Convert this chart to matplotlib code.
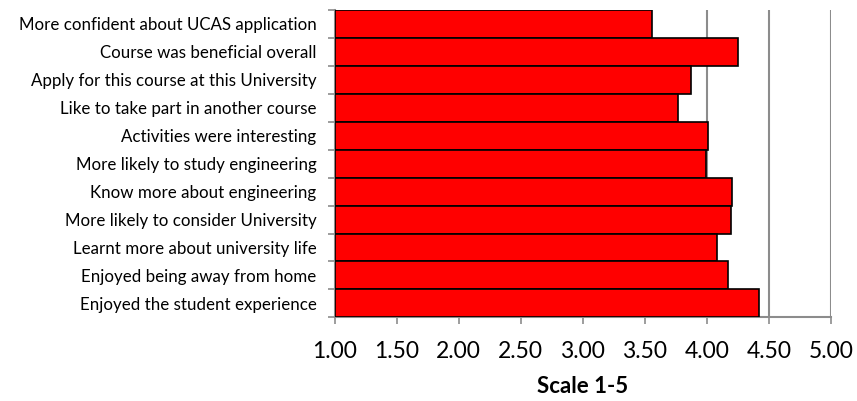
import numpy as np
import matplotlib.pyplot as plt
from matplotlib.ticker import MultipleLocator, FixedLocator

# survey statements, top to bottom
statements = [
    "More confident about UCAS application",
    "Course was beneficial overall",
    "Apply for this course at this University",
    "Like to take part in another course",
    "Activities were interesting",
    "More likely to study engineering",
    "Know more about engineering",
    "More likely to consider University",
    "Learnt more about university life",
    "Enjoyed being away from home",
    "Enjoyed the student experience",
]
# mean score on the 1-5 scale
scores = [3.56, 4.25, 3.87, 3.77, 4.01, 3.99, 4.20, 4.19, 4.08, 4.17, 4.42]

x_min, x_max = 1.0, 5.0
grey = "#8c8c8c"

plt.rcParams['font.family'] = ['Lato', 'DejaVu Sans']

fig = plt.figure(figsize=(8.57, 4.01), dpi=100)
ax = fig.add_axes([0.3905, 0.2087, 0.9697 - 0.3905, 0.975 - 0.2087])

ypos = np.arange(len(statements))
ax.barh(ypos, np.array(scores) - x_min, left=x_min, height=1.0,
        color="#ff0000", edgecolor="black", linewidth=1.2, zorder=3)

ax.set_xlim(x_min, x_max)
ax.set_ylim(len(statements) - 0.5, -0.5)

ax.xaxis.set_major_locator(MultipleLocator(0.5))
ax.set_xticklabels(["%.2f" % v for v in ax.get_xticks()])
ax.grid(axis="x", color=grey, linewidth=1.5, zorder=0)

ax.set_yticks(ypos)
ax.set_yticklabels(statements, fontsize=12.2)
ax.tick_params(axis="y", which="major", length=0, pad=13)
ax.yaxis.set_minor_locator(FixedLocator(np.arange(-0.5, len(statements), 1.0)))
ax.tick_params(axis="y", which="minor", length=5, width=1.2, color=grey)
ax.tick_params(axis="x", length=5, width=1.2, color=grey, labelsize=16.5, pad=12)

for side in ("top", "right"):
    ax.spines[side].set_visible(False)
for side in ("left", "bottom"):
    ax.spines[side].set_color(grey)
    ax.spines[side].set_linewidth(1.5)

ax.set_xlabel("Scale 1-5", fontsize=16, fontweight="bold", labelpad=10)

fig.savefig("out.png", dpi=100)
